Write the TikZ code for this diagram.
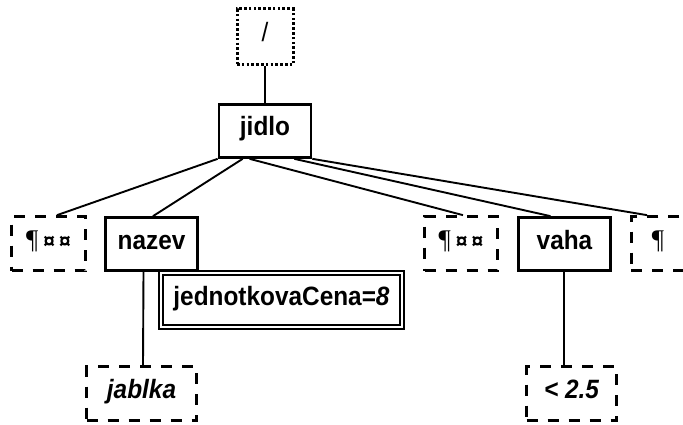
\documentclass[tikz,border=0pt]{standalone}
\usepackage{fontspec}
\setmainfont{Liberation Sans}
\newfontfamily\boxfont[FakeStretch=0.92]{Liberation Sans}
\newfontfamily\pilcrowfont{Liberation Serif}
\newfontfamily\curfont{Liberation Sans}
\newcommand\cursign{{\curfont\fontsize{21}{21}\selectfont\bfseries ¤}}
\usetikzlibrary{calc}
\begin{document}
\begin{tikzpicture}[x=1pt,y=-1pt,
  box/.style={rectangle, inner sep=0pt, font=\boxfont\fontsize{26.5}{26.5}\selectfont\bfseries,
    text height=10pt, text depth=0pt, line width=2.7pt, align=center},
  solidbox/.style={box, draw},
  dashbox/.style={box, draw, dash pattern=on 11pt off 10pt},
  dotbox/.style={box, draw, line width=3pt, dash pattern=on 2.6pt off 2.2pt},
  doublebox/.style={box, draw, line width=1.6pt, double, double distance=2.4pt},
  pil/.style={font=\pilcrowfont\fontsize{27}{27}\selectfont},
  link/.style={line width=1.9pt}
]
\useasboundingbox (0,0) rectangle (683,425);
\clip (0,0) rectangle (683,425);

\node[dotbox, minimum width=56pt, minimum height=56pt] (slash) at (265,37) {\mdseries /};
\node[solidbox, minimum width=92pt, minimum height=53pt] (jidlo) at (265,131) {jidlo};

\node[dashbox, pil, minimum width=74pt, minimum height=54pt] (pL) at (48.5,243.5) {¶\kern5pt\cursign\kern4pt\cursign};
\node[solidbox, minimum width=92pt, minimum height=53pt] (nazev) at (151.5,244) {nazev};
\node[dashbox, pil, minimum width=73pt, minimum height=54pt] (pR) at (461,243.5) {¶\kern5pt\cursign\kern4pt\cursign};
\node[solidbox, minimum width=92pt, minimum height=53pt] (vaha) at (564.5,244) {vaha};
\node[dashbox, pil, minimum width=60pt, minimum height=54pt] (pE) at (661.4,243.5) {¶\kern7pt};

\node[doublebox, minimum width=241.4pt, minimum height=54.4pt] (cena) at (281.5,300) {jednotkovaCena=\textit{8}};

\node[dashbox, minimum width=110pt, minimum height=54pt] (jablka) at (141.5,393.5) {\itshape jablka};
\node[dashbox, minimum width=90pt, minimum height=54pt] (lt) at (571.5,393.5) {\itshape < 2.5};

\draw[link] (slash.south) -- (jidlo.north);
\draw[link] (jidlo.south west) -- ($(pL.north)+(8.5,0)$);
\draw[link] ($(jidlo.south west)+(25,0)$) -- ($(nazev.north)+(1.5,0)$);
\draw[link] ($(jidlo.south west)+(32,0)$) -- ($(pR.north)+(2,0)$);
\draw[link] ($(jidlo.south east)+(-18,0)$) -- ($(vaha.north)+(-14,0)$);
\draw[link] (jidlo.south east) -- ($(pE.north west)+(17,0)$);
\draw[link] ($(nazev.south)+(-8,0)$) -- ($(jablka.north)+(1.5,0)$);
\draw[link] ($(vaha.south)+(-0.5,0)$) -- ($(vaha.south |- lt.north)+(-0.5,0)$);
\end{tikzpicture}
\end{document}
